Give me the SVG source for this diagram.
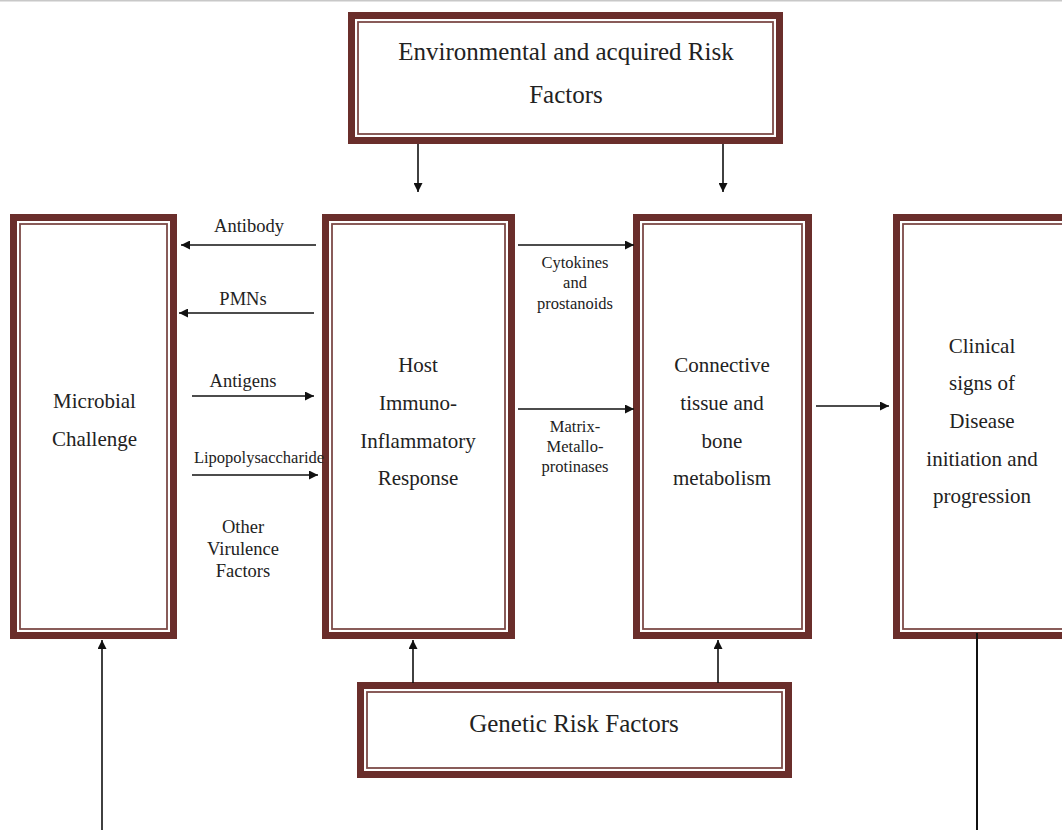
<svg xmlns="http://www.w3.org/2000/svg" width="1062" height="830" viewBox="0 0 1062 830">
<defs>
<style>
.outer{fill:#fff;stroke:#6a2e2b;stroke-width:7}
.inner{fill:none;stroke:#7d4b48;stroke-width:1.8}
.big{font-family:"Liberation Serif","Times New Roman",serif;font-size:25px;fill:#222;text-anchor:middle}
.mid{font-family:"Liberation Serif","Times New Roman",serif;font-size:21px;fill:#222;text-anchor:middle}
.lbl{font-family:"Liberation Serif","Times New Roman",serif;font-size:18.5px;fill:#222;text-anchor:middle}
.sm{font-family:"Liberation Serif","Times New Roman",serif;font-size:16.5px;fill:#222;text-anchor:middle}
.ln{stroke:#111;stroke-width:1.6;fill:none}
</style>
<marker id="ah" viewBox="0 0 10 10" refX="10" refY="5" markerWidth="6" markerHeight="6" orient="auto" markerUnits="userSpaceOnUse">
<path d="M0,0 L10,5 L0,10 z" fill="#111"/>
</marker>
<marker id="ah2" viewBox="0 0 10 10" refX="10" refY="5" markerWidth="9" markerHeight="9" orient="auto" markerUnits="userSpaceOnUse">
<path d="M0,0 L10,5 L0,10 z" fill="#111"/>
</marker>
</defs>
<rect width="1062" height="830" fill="#fff"/>
<line x1="0" y1="0.8" x2="1062" y2="0.8" stroke="#c8c8c8" stroke-width="1.5"/>

<g id="env">
<rect class="outer" x="351.5" y="15.5" width="428" height="125"/>
<rect class="inner" x="358" y="22" width="415" height="112"/>
<text class="big" x="566" y="60">Environmental and acquired Risk</text>
<text class="big" x="566" y="103">Factors</text>
</g>

<g id="microbial">
<rect class="outer" x="13.5" y="217.5" width="160" height="418"/>
<rect class="inner" x="20" y="224" width="147" height="405"/>
<text class="mid" x="94.5" y="408">Microbial</text>
<text class="mid" x="94.5" y="446">Challenge</text>
</g>

<g id="host">
<rect class="outer" x="325.5" y="217.5" width="186" height="418"/>
<rect class="inner" x="332" y="224" width="173" height="405"/>
<text class="mid" x="418" y="372">Host</text>
<text class="mid" x="418" y="410">Immuno-</text>
<text class="mid" x="418" y="448">Inflammatory</text>
<text class="mid" x="418" y="485">Response</text>
</g>

<g id="connective">
<rect class="outer" x="636.5" y="217.5" width="172" height="418"/>
<rect class="inner" x="643" y="224" width="159" height="405"/>
<text class="mid" x="722" y="372">Connective</text>
<text class="mid" x="722" y="410">tissue and</text>
<text class="mid" x="722" y="448">bone</text>
<text class="mid" x="722" y="485">metabolism</text>
</g>

<g id="clinical">
<rect class="outer" x="896.5" y="217.5" width="180" height="418"/>
<rect class="inner" x="903" y="224" width="167" height="405"/>
<text class="mid" x="982" y="353">Clinical</text>
<text class="mid" x="982" y="390">signs of</text>
<text class="mid" x="982" y="428">Disease</text>
<text class="mid" x="982" y="466">initiation and</text>
<text class="mid" x="982" y="503">progression</text>
</g>

<g id="genetic">
<rect class="outer" x="360.5" y="685.5" width="428" height="89"/>
<rect class="inner" x="367" y="692" width="415" height="76"/>
<text class="big" x="574" y="732">Genetic Risk Factors</text>
</g>

<g id="labels">
<text class="lbl" x="249" y="232">Antibody</text>
<text class="lbl" x="243" y="305">PMNs</text>
<text class="lbl" x="243" y="387">Antigens</text>
<text class="sm" x="259" y="463">Lipopolysaccharide</text>
<text class="lbl" x="243" y="533">Other</text>
<text class="lbl" x="243" y="555">Virulence</text>
<text class="lbl" x="243" y="577">Factors</text>
<text class="sm" x="575" y="268">Cytokines</text>
<text class="sm" x="575" y="288">and</text>
<text class="sm" x="575" y="309">prostanoids</text>
<text class="sm" x="575" y="432">Matrix-</text>
<text class="sm" x="575" y="452">Metallo-</text>
<text class="sm" x="575" y="472">protinases</text>
</g>

<g id="connectors">
<line class="ln" x1="418" y1="144" x2="418" y2="192" marker-end="url(#ah2)"/>
<line class="ln" x1="723" y1="144" x2="723" y2="192" marker-end="url(#ah2)"/>
<line class="ln" x1="316" y1="245" x2="181" y2="245" marker-end="url(#ah2)"/>
<line class="ln" x1="314" y1="313" x2="179" y2="313" marker-end="url(#ah2)"/>
<line class="ln" x1="192" y1="396" x2="314" y2="396" marker-end="url(#ah2)"/>
<line class="ln" x1="192" y1="475" x2="318" y2="475" marker-end="url(#ah2)"/>
<line class="ln" x1="518" y1="245" x2="634" y2="245" marker-end="url(#ah2)"/>
<line class="ln" x1="518" y1="409" x2="634" y2="409" marker-end="url(#ah2)"/>
<line class="ln" x1="816" y1="406" x2="889" y2="406" marker-end="url(#ah2)"/>
<line class="ln" x1="413" y1="683" x2="413" y2="640" marker-end="url(#ah2)"/>
<line class="ln" x1="718" y1="683" x2="718" y2="640" marker-end="url(#ah2)"/>
<line class="ln" x1="102" y1="830" x2="102" y2="640" marker-end="url(#ah2)"/>
<line x1="977" y1="633" x2="977" y2="830" stroke="#111" stroke-width="2"/>
</g>
</svg>
